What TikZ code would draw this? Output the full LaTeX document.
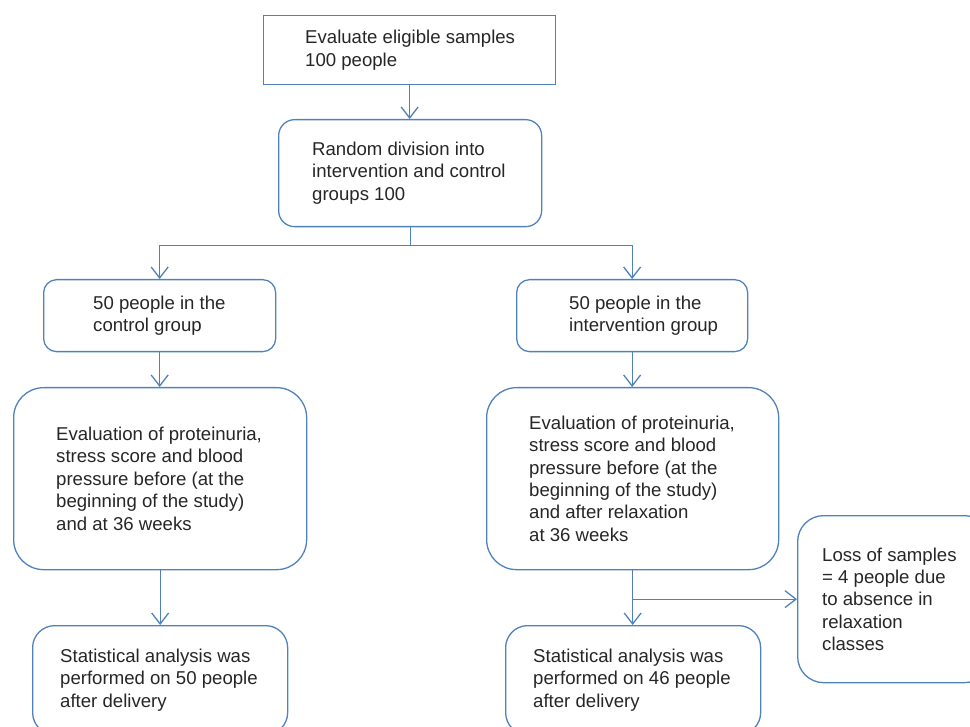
\documentclass[tikz,border=0pt]{standalone}
\usepackage{fontspec}
\setmainfont{Liberation Sans}
\usetikzlibrary{positioning,arrows.meta}
\definecolor{boxblue}{RGB}{79,129,189}
\definecolor{txtgray}{RGB}{38,38,38}
\tikzset{
	box/.style={draw=boxblue,line width=1.3pt,inner sep=0pt,anchor=north west},
	txt/.style={align=left,inner sep=0pt,text=txtgray,font=\fontsize{18.6}{22.4}\selectfont},
}
\begin{document}
\begin{tikzpicture}[x=1pt,y=-1pt]
			\clip (0,0) rectangle (970,727);
			\node[box,minimum width=292pt,minimum height=69pt] (eligible) at (263,15) {};
			\node[box,rounded corners=16pt,minimum width=263pt,minimum height=107pt] (random) at (278,119) {};
			\node[box,rounded corners=13pt,minimum width=232pt,minimum height=72pt] (ctl) at (43,279) {};
			\node[box,rounded corners=13pt,minimum width=231pt,minimum height=72pt] (intv) at (516,279) {};
			\node[box,rounded corners=30pt,minimum width=293pt,minimum height=182pt] (ctl-eval) at (13,387) {};
			\node[box,rounded corners=30pt,minimum width=292pt,minimum height=182pt] (intv-eval) at (486,387) {};
			\node[box,rounded corners=22pt,minimum width=255pt,minimum height=109pt] (ctl-stat) at (32,625) {};
			\node[box,rounded corners=22pt,minimum width=255pt,minimum height=109pt] (intv-stat) at (505,625) {};
			\node[box,rounded corners=26pt,minimum width=193pt,minimum height=167pt] (loss) at (797,515) {};

			\node[txt,right=42pt of eligible.west] (eligible-t) {Evaluate eligible samples\\100 people};
			\node[txt,right=34pt of random.west] (random-t) {Random division into\\intervention and control\\groups 100};
			\node[txt,right=50pt of ctl.west] (ctl-t) {50 people in the\\control group};
			\node[txt,right=53pt of intv.west] (intv-t) {50 people in the\\intervention group};
			\node[txt,right=43pt of ctl-eval.west] (ctl-eval-t) {Evaluation of proteinuria,\\stress score and blood\\pressure before (at the\\beginning of the study)\\and at 36 weeks};
			\node[txt,right=43pt of intv-eval.west] (intv-eval-t) {Evaluation of proteinuria,\\stress score and blood\\pressure before (at the\\beginning of the study)\\and after relaxation\\at 36 weeks};
			\node[txt,right=28pt of ctl-stat.west] (ctl-stat-t) {Statistical analysis was\\performed on 50 people\\after delivery};
			\node[txt,right=28pt of intv-stat.west] (intv-stat-t) {Statistical analysis was\\performed on 46 people\\after delivery};
			\node[txt,right=25pt of loss.west] (loss-t) {Loss of samples\\= 4 people due\\to absence in\\relaxation\\classes};

			\coordinate[below=18pt of random.south] (split);
			\coordinate (drop) at (intv-eval.south |- loss.west);
			\begin{scope}[->,>={Straight Barb[length=11pt,width=17pt]},boxblue,line width=1.3pt]
			    \draw (eligible.south) -- (eligible.south |- random.north);
			    \draw[-] (random.south) -- (split);
			    \draw (split) -| (ctl.north);
			    \draw (split) -| (intv.north);
			    \draw (ctl.south) -- (ctl.south |- ctl-eval.north);
			    \draw (intv.south) -- (intv.south |- intv-eval.north);
			    \draw (ctl-eval.south) -- (ctl-eval.south |- ctl-stat.north);
			    \draw (intv-eval.south) -- (intv-eval.south |- intv-stat.north);
			    \draw (drop) -- (loss.west);
			\end{scope}
		    \end{tikzpicture}
\end{document}
